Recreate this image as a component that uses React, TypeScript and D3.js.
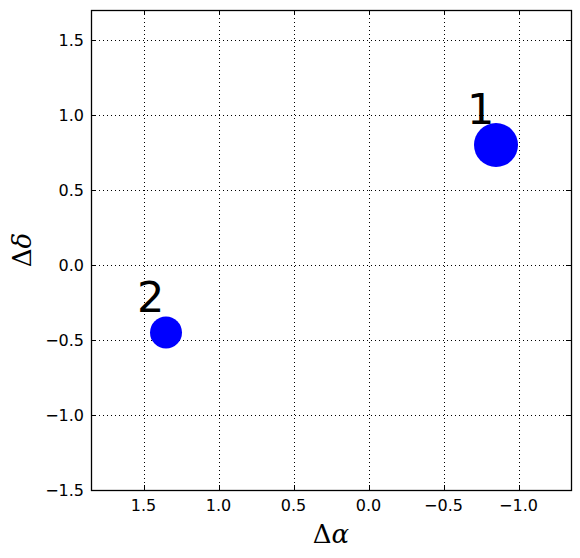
import React from 'react';
import * as d3 from 'd3';

// source positions (offsets in arcsec) and marker radius in px
const labels = ['1', '2'];
const dAlpha = [-0.85, 1.35];
const dDelta = [0.8, -0.45];
const sizes = [22, 16];

const xTicks = [1.5, 1.0, 0.5, 0.0, -0.5, -1.0];
const yTicks = [-1.5, -1.0, -0.5, 0.0, 0.5, 1.0, 1.5];

function App() {
    const width = 580,
        height = 558;
    const margin = { top: 10, right: 9, bottom: 68, left: 91 };
    const x0 = margin.left,
        x1 = width - margin.right,
        y0 = margin.top,
        y1 = height - margin.bottom;

    const x = d3.scaleLinear().domain([1.85, -1.35]).range([x0, x1]);
    const y = d3.scaleLinear().domain([-1.5, 1.7]).range([y1, y0]);
    const fmt = d3.format('.1f');
    const tickLen = 5;
    const font = "'DejaVu Sans', sans-serif";

    return (
        <svg
            width={width}
            height={height}
            style={{ position: 'absolute', left: 0, top: 0, background: '#fff' }}
        >
            {/* grid */}
            <g stroke="#000" strokeWidth={1} strokeDasharray="1,3">
                {xTicks.map((t, i) => (
                    <line key={i} x1={Math.round(x(t)) + 0.5} x2={Math.round(x(t)) + 0.5} y1={y0} y2={y1} />
                ))}
                {yTicks.map((t, i) => (
                    <line key={i} y1={Math.round(y(t)) + 0.5} y2={Math.round(y(t)) + 0.5} x1={x0} x2={x1} />
                ))}
            </g>

            {/* points */}
            {dAlpha.map((a, i) => (
                <g key={i}>
                    <circle cx={x(a)} cy={y(dDelta[i])} r={sizes[i]} fill="#0000ff" />
                    <text
                        x={x(a) - 29}
                        y={y(dDelta[i]) - 21}
                        style={{ fontFamily: font, fontSize: '43px' }}
                        fill="#000"
                    >
                        {labels[i]}
                    </text>
                </g>
            ))}

            {/* ticks, inside on all four sides */}
            <g stroke="#000" strokeWidth={1}>
                {xTicks.map((t, i) => {
                    const px = Math.round(x(t)) + 0.5;
                    return (
                        <g key={i}>
                            <line x1={px} x2={px} y1={y1} y2={y1 - tickLen} />
                            <line x1={px} x2={px} y1={y0} y2={y0 + tickLen} />
                        </g>
                    );
                })}
                {yTicks.map((t, i) => {
                    const py = Math.round(y(t)) + 0.5;
                    return (
                        <g key={i}>
                            <line y1={py} y2={py} x1={x0} x2={x0 + tickLen} />
                            <line y1={py} y2={py} x1={x1} x2={x1 - tickLen} />
                        </g>
                    );
                })}
            </g>

            {/* frame */}
            <rect
                x={x0 + 0.5}
                y={y0 + 0.5}
                width={x1 - x0}
                height={y1 - y0}
                fill="none"
                stroke="#000"
                strokeWidth={1.3}
            />

            {/* tick labels */}
            <g style={{ fontFamily: font, fontSize: '16px' }} fill="#000">
                {xTicks.map((t, i) => (
                    <text key={i} x={x(t)} y={y1 + 21} textAnchor="middle">
                        {fmt(t)}
                    </text>
                ))}
                {yTicks.map((t, i) => (
                    <text key={i} x={x0 - 7} y={y(t)} dy="0.36em" textAnchor="end">
                        {fmt(t)}
                    </text>
                ))}
            </g>

            {/* axis titles */}
            <text
                x={(x0 + x1) / 2}
                y={y1 + 53}
                textAnchor="middle"
                style={{ fontFamily: "'DejaVu Serif', serif", fontSize: '26px' }}
            >
                Δ<tspan fontStyle="italic">α</tspan>
            </text>
            <text
                transform={`translate(31, ${(y0 + y1) / 2}) rotate(-90)`}
                textAnchor="middle"
                style={{ fontFamily: "'DejaVu Serif', serif", fontSize: '26px' }}
            >
                Δ<tspan fontStyle="italic">δ</tspan>
            </text>
        </svg>
    );
}

export default App;
